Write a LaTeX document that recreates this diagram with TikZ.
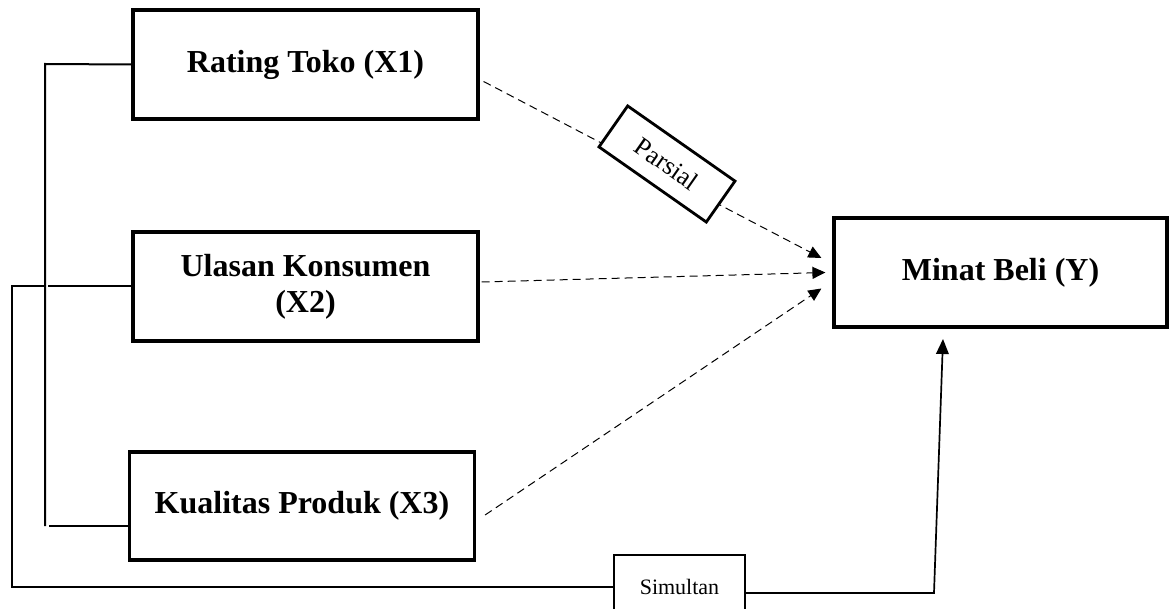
\documentclass[tikz,border=0pt]{standalone}
\usepackage{fontspec}
\setmainfont{Liberation Serif}
\usetikzlibrary{arrows.meta}

\begin{document}
\begin{tikzpicture}[x=0.5pt, y=-0.5pt, var/.style={draw, line width=1.6pt, minimum width=172.5pt, minimum height=54.5pt, align=center, font=\fontsize{16}{18}\selectfont\bfseries}, tag/.style={draw, fill=white, inner sep=0pt, font=\fontsize{11}{13}\selectfont}, link/.style={line width=1pt}, partial/.style={line width=0.5pt, dash pattern=on 4pt off 2.5pt, -{Triangle[length=6.5pt, width=6pt]}}]
		\useasboundingbox (0,0) rectangle (1174,609);

		\node (X1)[var] at (305.5,64.5){Rating Toko (X1)};
		\node (X2)[var] at (305.5,286.5){Ulasan Konsumen\\(X2)};
		\node (X3)[var, minimum height=54pt] at (302,506){Kualitas Produk (X3)};

		\node (Y)[var, minimum width=166.5pt] at (1000.5,272.5){Minat Beli (Y)};

		% partial paths
		\draw [partial]([shift={(4,17)}]X1.east) -- ([shift={(-11,-14.5)}]Y.west);
		\draw [partial]([shift={(2,-4.5)}]X2.east) -- ([shift={(-7,0)}]Y.west);
		\draw [partial]([shift={(9,9)}]X3.east) -- ([shift={(-11,16)}]Y.west);

		\node (P)[tag, line width=1.4pt, minimum width=65.5pt, minimum height=25pt, rotate=-35, font=\fontsize{13}{15}\selectfont] at (667,164){Parsial};
		\node (S)[tag, line width=0.85pt, minimum width=65.5pt, minimum height=32pt] at (679.5,587){Simultan};

		% simultaneous path
		\coordinate (tl) at (45,64);
		\coordinate (bl) at (45,526);
		\coordinate (ol) at (12,286.5);
		\coordinate (ob) at (12,587);
		\coordinate (sr) at (934,593);
		\coordinate (yin) at (943,339);
		\draw [link](X1.west) -- (tl) -- (bl);
		\draw [link](X2.west) -- ++(-83,0);
		\draw [link](X3.west |- bl) -- ++(-79,0);
		\draw [link](tl |- X2.west) -- (ol) -- (ob) -- (S.west);
		\draw [link, line width=0.85pt, -{Triangle[length=7.5pt, width=6.3pt]}](S.east |- sr) -- (sr) -- (yin);
	\end{tikzpicture}
\end{document}
